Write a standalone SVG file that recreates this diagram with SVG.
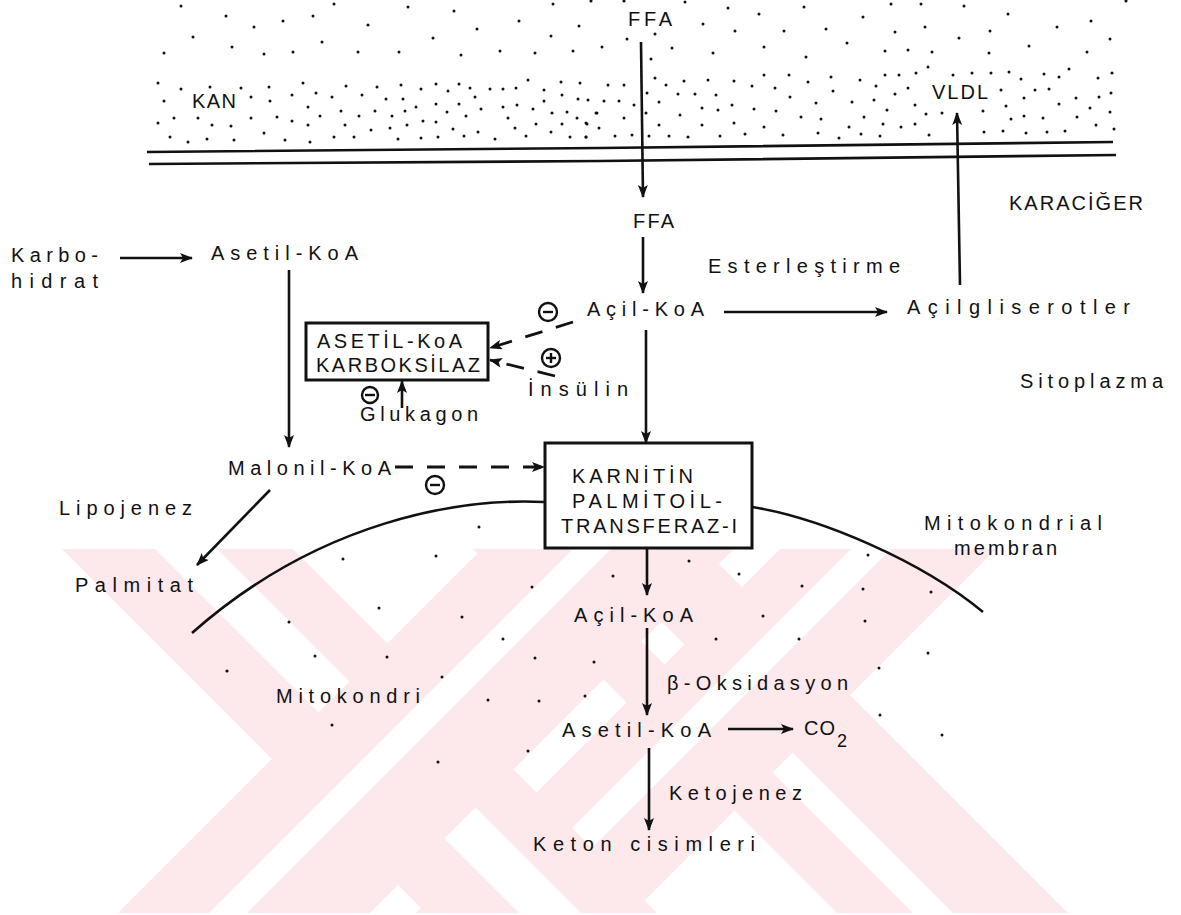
<svg xmlns="http://www.w3.org/2000/svg" width="1181" height="915" viewBox="0 0 1181 915">
<style>
text{font-family:"Liberation Sans Narrow","Liberation Sans",Arial,sans-serif;font-size:20px;fill:#111;}
.ln{stroke:#111;stroke-width:2.6;fill:none;}
.dash{stroke:#111;stroke-width:2.8;fill:none;stroke-dasharray:18 14;}
.box{stroke:#111;stroke-width:3;fill:none;}
.wm{fill:#fde8ec;}
.wg{fill:#fff;}
.d{fill:#111;}
.sign{stroke:#111;stroke-width:2.4;fill:none;}
</style>
<defs>
<marker id="ah" markerUnits="userSpaceOnUse" markerWidth="14" markerHeight="12" refX="12" refY="5" orient="auto"><path d="M0,0 L13,5 L0,10 L3,5 Z" fill="#111"/></marker>
</defs>
<rect width="1181" height="915" fill="#fff"/>
<g id="watermark">
<polygon class="wm" points="473,549 704,549 1068,913 837,913"/>
<polygon class="wg" points="549,549 589,549 953,913 913,913"/>
<polygon class="wm" points="780,549 996,549 632,913 416,913"/>
<polygon class="wg" points="851,549 891,549 527,913 487,913"/>
<polygon class="wm" points="62,549 293,549 657,913 426,913"/>
<polygon class="wg" points="155,549 217,549 581,913 519,913"/>
<polygon class="wm" points="482,549 734,549 370,913 118,913"/>
<polygon class="wg" points="573,549 611,549 247,913 209,913"/>
</g>
<g id="blood-dots" class="d">
<circle cx="181" cy="6" r="1.5"/><circle cx="226" cy="16" r="1.5"/><circle cx="254" cy="27" r="1.5"/><circle cx="283" cy="21" r="1.5"/><circle cx="313" cy="16" r="1.5"/><circle cx="334" cy="4" r="1.5"/><circle cx="368" cy="25" r="1.5"/><circle cx="408" cy="7" r="1.5"/><circle cx="454" cy="11" r="1.5"/><circle cx="477" cy="29" r="1.5"/><circle cx="519" cy="21" r="1.5"/><circle cx="553" cy="4" r="1.5"/><circle cx="579" cy="26" r="1.5"/>
<circle cx="193" cy="37" r="1.5"/><circle cx="232" cy="47" r="1.5"/><circle cx="322" cy="42" r="1.5"/><circle cx="433" cy="38" r="1.5"/><circle cx="551" cy="36" r="1.5"/><circle cx="164" cy="53" r="1.5"/><circle cx="264" cy="54" r="1.5"/><circle cx="293" cy="52" r="1.5"/><circle cx="358" cy="52" r="1.5"/><circle cx="399" cy="52" r="1.5"/><circle cx="461" cy="55" r="1.5"/><circle cx="500" cy="51" r="1.5"/><circle cx="535" cy="53" r="1.5"/><circle cx="573" cy="51" r="1.5"/>
<circle cx="158" cy="83" r="1.5"/><circle cx="181" cy="89" r="1.5"/><circle cx="210" cy="87" r="1.5"/><circle cx="241" cy="88" r="1.5"/><circle cx="269" cy="87" r="1.5"/><circle cx="303" cy="83" r="1.5"/><circle cx="346" cy="86" r="1.5"/><circle cx="377" cy="87" r="1.5"/><circle cx="401" cy="85" r="1.5"/><circle cx="421" cy="89" r="1.5"/><circle cx="436" cy="84" r="1.5"/><circle cx="448" cy="91" r="1.5"/><circle cx="459" cy="84" r="1.5"/><circle cx="470" cy="88" r="1.5"/><circle cx="490" cy="89" r="1.5"/><circle cx="503" cy="89" r="1.5"/><circle cx="516" cy="88" r="1.5"/><circle cx="528" cy="80" r="1.5"/><circle cx="544" cy="90" r="1.5"/><circle cx="561" cy="82" r="1.5"/><circle cx="580" cy="83" r="1.5"/>
<circle cx="164" cy="101" r="1.5"/><circle cx="251" cy="97" r="1.5"/><circle cx="270" cy="101" r="1.5"/><circle cx="292" cy="95" r="1.5"/><circle cx="316" cy="93" r="1.5"/><circle cx="332" cy="97" r="1.5"/><circle cx="362" cy="95" r="1.5"/><circle cx="386" cy="99" r="1.5"/><circle cx="403" cy="99" r="1.5"/><circle cx="436" cy="104" r="1.5"/><circle cx="459" cy="104" r="1.5"/><circle cx="475" cy="97" r="1.5"/><circle cx="503" cy="107" r="1.5"/><circle cx="517" cy="105" r="1.5"/><circle cx="533" cy="109" r="1.5"/><circle cx="544" cy="101" r="1.5"/><circle cx="562" cy="95" r="1.5"/><circle cx="578" cy="99" r="1.5"/>
<circle cx="308" cy="107" r="1.5"/><circle cx="341" cy="111" r="1.5"/><circle cx="359" cy="116" r="1.5"/><circle cx="375" cy="111" r="1.5"/><circle cx="392" cy="116" r="1.5"/><circle cx="405" cy="111" r="1.5"/><circle cx="416" cy="107" r="1.5"/><circle cx="447" cy="112" r="1.5"/><circle cx="466" cy="116" r="1.5"/><circle cx="481" cy="109" r="1.5"/><circle cx="552" cy="113" r="1.5"/><circle cx="567" cy="112" r="1.5"/><circle cx="597" cy="113" r="1.5"/>
<circle cx="158" cy="123" r="1.5"/><circle cx="174" cy="118" r="1.5"/><circle cx="198" cy="118" r="1.5"/><circle cx="212" cy="125" r="1.5"/><circle cx="231" cy="126" r="1.5"/><circle cx="251" cy="118" r="1.5"/><circle cx="277" cy="117" r="1.5"/><circle cx="292" cy="121" r="1.5"/><circle cx="308" cy="125" r="1.5"/><circle cx="320" cy="116" r="1.5"/><circle cx="345" cy="125" r="1.5"/><circle cx="371" cy="130" r="1.5"/><circle cx="390" cy="128" r="1.5"/><circle cx="407" cy="125" r="1.5"/><circle cx="423" cy="121" r="1.5"/><circle cx="436" cy="122" r="1.5"/><circle cx="453" cy="129" r="1.5"/><circle cx="478" cy="132" r="1.5"/><circle cx="508" cy="118" r="1.5"/><circle cx="515" cy="128" r="1.5"/><circle cx="536" cy="124" r="1.5"/><circle cx="562" cy="124" r="1.5"/><circle cx="577" cy="118" r="1.5"/><circle cx="586" cy="123" r="1.5"/>
<circle cx="170" cy="137" r="1.5"/><circle cx="188" cy="142" r="1.5"/><circle cx="207" cy="139" r="1.5"/><circle cx="234" cy="140" r="1.5"/><circle cx="264" cy="133" r="1.5"/><circle cx="285" cy="140" r="1.5"/><circle cx="310" cy="142" r="1.5"/><circle cx="334" cy="137" r="1.5"/><circle cx="354" cy="137" r="1.5"/><circle cx="398" cy="139" r="1.5"/><circle cx="421" cy="138" r="1.5"/><circle cx="438" cy="137" r="1.5"/><circle cx="464" cy="136" r="1.5"/><circle cx="495" cy="139" r="1.5"/><circle cx="526" cy="136" r="1.5"/><circle cx="551" cy="132" r="1.5"/><circle cx="570" cy="137" r="1.5"/><circle cx="586" cy="137" r="1.5"/>
<circle cx="591" cy="1" r="1.5"/><circle cx="624" cy="1" r="1.5"/><circle cx="685" cy="2" r="1.5"/><circle cx="728" cy="8" r="1.5"/><circle cx="759" cy="14" r="1.5"/><circle cx="804" cy="7" r="1.5"/><circle cx="863" cy="17" r="1.5"/><circle cx="891" cy="4" r="1.5"/><circle cx="921" cy="4" r="1.5"/><circle cx="964" cy="6" r="1.5"/><circle cx="1008" cy="14" r="1.5"/><circle cx="1091" cy="21" r="1.5"/><circle cx="1126" cy="1" r="1.5"/>
<circle cx="703" cy="24" r="1.5"/><circle cx="735" cy="31" r="1.5"/><circle cx="784" cy="31" r="1.5"/><circle cx="826" cy="29" r="1.5"/><circle cx="895" cy="32" r="1.5"/><circle cx="925" cy="27" r="1.5"/><circle cx="959" cy="38" r="1.5"/><circle cx="990" cy="31" r="1.5"/><circle cx="1057" cy="27" r="1.5"/><circle cx="1110" cy="39" r="1.5"/>
<circle cx="602" cy="47" r="1.5"/><circle cx="627" cy="39" r="1.5"/><circle cx="655" cy="34" r="1.5"/><circle cx="672" cy="48" r="1.5"/><circle cx="713" cy="53" r="1.5"/><circle cx="764" cy="47" r="1.5"/><circle cx="806" cy="57" r="1.5"/><circle cx="847" cy="43" r="1.5"/><circle cx="885" cy="51" r="1.5"/><circle cx="908" cy="50" r="1.5"/><circle cx="932" cy="52" r="1.5"/><circle cx="989" cy="53" r="1.5"/><circle cx="1029" cy="46" r="1.5"/><circle cx="1087" cy="52" r="1.5"/><circle cx="651" cy="59" r="1.5"/><circle cx="928" cy="67" r="1.5"/>
<circle cx="608" cy="85" r="1.5"/><circle cx="624" cy="85" r="1.5"/><circle cx="655" cy="78" r="1.5"/><circle cx="666" cy="85" r="1.5"/><circle cx="684" cy="81" r="1.5"/><circle cx="708" cy="80" r="1.5"/><circle cx="734" cy="81" r="1.5"/><circle cx="764" cy="75" r="1.5"/><circle cx="789" cy="75" r="1.5"/><circle cx="808" cy="82" r="1.5"/><circle cx="831" cy="77" r="1.5"/><circle cx="860" cy="80" r="1.5"/><circle cx="876" cy="86" r="1.5"/><circle cx="885" cy="75" r="1.5"/><circle cx="899" cy="75" r="1.5"/><circle cx="916" cy="73" r="1.5"/><circle cx="953" cy="75" r="1.5"/><circle cx="972" cy="73" r="1.5"/><circle cx="991" cy="73" r="1.5"/><circle cx="1009" cy="72" r="1.5"/><circle cx="1021" cy="79" r="1.5"/><circle cx="1044" cy="74" r="1.5"/><circle cx="1059" cy="77" r="1.5"/><circle cx="1069" cy="69" r="1.5"/><circle cx="1098" cy="78" r="1.5"/><circle cx="1112" cy="73" r="1.5"/>
<circle cx="588" cy="100" r="1.5"/><circle cx="604" cy="101" r="1.5"/><circle cx="619" cy="101" r="1.5"/><circle cx="634" cy="105" r="1.5"/><circle cx="647" cy="93" r="1.5"/><circle cx="659" cy="102" r="1.5"/><circle cx="678" cy="94" r="1.5"/><circle cx="695" cy="94" r="1.5"/><circle cx="716" cy="95" r="1.5"/><circle cx="752" cy="86" r="1.5"/><circle cx="775" cy="88" r="1.5"/><circle cx="790" cy="97" r="1.5"/><circle cx="816" cy="103" r="1.5"/><circle cx="833" cy="91" r="1.5"/><circle cx="852" cy="102" r="1.5"/><circle cx="874" cy="100" r="1.5"/><circle cx="895" cy="94" r="1.5"/><circle cx="908" cy="88" r="1.5"/><circle cx="915" cy="105" r="1.5"/><circle cx="1001" cy="90" r="1.5"/><circle cx="1024" cy="98" r="1.5"/><circle cx="1035" cy="90" r="1.5"/><circle cx="1049" cy="89" r="1.5"/><circle cx="1076" cy="98" r="1.5"/><circle cx="1099" cy="97" r="1.5"/><circle cx="1111" cy="93" r="1.5"/><circle cx="1059" cy="104" r="1.5"/><circle cx="1006" cy="106" r="1.5"/><circle cx="983" cy="111" r="1.5"/>
<circle cx="596" cy="113" r="1.5"/><circle cx="624" cy="118" r="1.5"/><circle cx="646" cy="113" r="1.5"/><circle cx="680" cy="115" r="1.5"/><circle cx="702" cy="108" r="1.5"/><circle cx="718" cy="110" r="1.5"/><circle cx="732" cy="105" r="1.5"/><circle cx="754" cy="109" r="1.5"/><circle cx="776" cy="111" r="1.5"/><circle cx="801" cy="117" r="1.5"/><circle cx="821" cy="119" r="1.5"/><circle cx="864" cy="117" r="1.5"/><circle cx="887" cy="110" r="1.5"/><circle cx="926" cy="114" r="1.5"/><circle cx="942" cy="113" r="1.5"/><circle cx="1011" cy="119" r="1.5"/><circle cx="1024" cy="116" r="1.5"/><circle cx="1043" cy="118" r="1.5"/><circle cx="1077" cy="117" r="1.5"/><circle cx="1090" cy="108" r="1.5"/><circle cx="1110" cy="112" r="1.5"/>
<circle cx="587" cy="124" r="1.5"/><circle cx="599" cy="128" r="1.5"/><circle cx="659" cy="125" r="1.5"/><circle cx="702" cy="125" r="1.5"/><circle cx="734" cy="123" r="1.5"/><circle cx="764" cy="127" r="1.5"/><circle cx="849" cy="127" r="1.5"/><circle cx="883" cy="124" r="1.5"/><circle cx="901" cy="127" r="1.5"/><circle cx="915" cy="124" r="1.5"/><circle cx="1096" cy="125" r="1.5"/>
<circle cx="586" cy="137" r="1.5"/><circle cx="615" cy="136" r="1.5"/><circle cx="632" cy="135" r="1.5"/><circle cx="649" cy="136" r="1.5"/><circle cx="669" cy="136" r="1.5"/><circle cx="688" cy="137" r="1.5"/><circle cx="720" cy="136" r="1.5"/><circle cx="745" cy="134" r="1.5"/><circle cx="783" cy="135" r="1.5"/><circle cx="818" cy="133" r="1.5"/><circle cx="839" cy="138" r="1.5"/><circle cx="861" cy="134" r="1.5"/><circle cx="880" cy="136" r="1.5"/><circle cx="929" cy="135" r="1.5"/><circle cx="984" cy="132" r="1.5"/><circle cx="1003" cy="131" r="1.5"/><circle cx="1026" cy="133" r="1.5"/><circle cx="1047" cy="132" r="1.5"/><circle cx="1065" cy="131" r="1.5"/><circle cx="1114" cy="129" r="1.5"/>
</g>
<g id="mito-dots" class="d">
<circle cx="479" cy="527" r="1.5"/><circle cx="343" cy="559" r="1.5"/><circle cx="436" cy="556" r="1.5"/><circle cx="379" cy="608" r="1.5"/><circle cx="289" cy="622" r="1.5"/><circle cx="315" cy="656" r="1.5"/><circle cx="387" cy="657" r="1.5"/><circle cx="227" cy="671" r="1.6"/><circle cx="332" cy="725" r="1.5"/>
<circle cx="532" cy="587" r="1.5"/><circle cx="462" cy="617" r="1.5"/><circle cx="503" cy="639" r="1.5"/><circle cx="535" cy="658" r="1.5"/><circle cx="594" cy="662" r="1.5"/><circle cx="442" cy="677" r="1.5"/><circle cx="488" cy="700" r="1.5"/><circle cx="539" cy="701" r="1.5"/><circle cx="585" cy="696" r="1.5"/><circle cx="438" cy="762" r="1.5"/><circle cx="528" cy="751" r="1.5"/><circle cx="613" cy="576" r="1.5"/><circle cx="689" cy="561" r="1.5"/><circle cx="739" cy="574" r="1.5"/><circle cx="763" cy="616" r="1.5"/><circle cx="716" cy="639" r="1.5"/>
<circle cx="868" cy="555" r="1.5"/><circle cx="802" cy="586" r="1.5"/><circle cx="863" cy="589" r="1.5"/><circle cx="931" cy="592" r="1.5"/><circle cx="865" cy="621" r="1.5"/><circle cx="799" cy="639" r="1.5"/><circle cx="928" cy="653" r="1.5"/><circle cx="879" cy="668" r="1.5"/><circle cx="880" cy="715" r="1.5"/><circle cx="942" cy="735" r="1.5"/>
</g>
<g id="membranes">
<path class="ln" d="M147,152 L600,148 L1113,142" stroke-width="3"/>
<path class="ln" d="M149,164 L600,161 L1116,155" stroke-width="3"/>
<path class="ln" d="M544,502 C460,498 320,520 192,633"/>
<path class="ln" d="M752,507 C820,518 920,560 983,612"/>
</g>
<g id="connectors">
<line class="ln" x1="641" y1="42" x2="643" y2="197" marker-end="url(#ah)"/>
<line class="ln" x1="960" y1="285" x2="957" y2="113" marker-end="url(#ah)"/>
<line class="ln" x1="643" y1="237" x2="643" y2="293" marker-end="url(#ah)"/>
<line class="ln" x1="724" y1="312" x2="887" y2="312" marker-end="url(#ah)"/>
<line class="ln" x1="646" y1="330" x2="646" y2="443" marker-end="url(#ah)"/>
<line class="ln" x1="120" y1="258" x2="192" y2="258" marker-end="url(#ah)"/>
<line class="ln" x1="289" y1="270" x2="289" y2="447" marker-end="url(#ah)"/>
<line class="dash" x1="395" y1="467" x2="544" y2="467" marker-end="url(#ah)"/>
<line class="ln" x1="270" y1="490" x2="197" y2="565" marker-end="url(#ah)"/>
<line class="dash" x1="573" y1="322" x2="490" y2="348" marker-end="url(#ah)"/>
<line class="dash" x1="555" y1="376" x2="490" y2="360" marker-end="url(#ah)"/>
<line class="ln" x1="402" y1="408" x2="402" y2="381" marker-end="url(#ah)"/>
<line class="ln" x1="647" y1="548" x2="647" y2="595" marker-end="url(#ah)"/>
<line class="ln" x1="647" y1="628" x2="647" y2="715" marker-end="url(#ah)"/>
<line class="ln" x1="728" y1="729" x2="793" y2="729" marker-end="url(#ah)"/>
<line class="ln" x1="649" y1="748" x2="649" y2="830" marker-end="url(#ah)"/>
</g>
<g id="signs">
<g id="minus-acil"><circle class="sign" cx="548" cy="312" r="9"/><line class="sign" x1="543" y1="312" x2="553" y2="312"/></g>
<g id="plus-insulin"><circle class="sign" cx="551" cy="358" r="9"/><line class="sign" x1="546" y1="358" x2="556" y2="358"/><line class="sign" x1="551" y1="353" x2="551" y2="363"/></g>
<g id="minus-glukagon"><circle class="sign" cx="370" cy="395" r="8"/><line class="sign" x1="365" y1="395" x2="375" y2="395"/></g>
<g id="minus-malonil"><circle class="sign" cx="435" cy="485" r="9"/><line class="sign" x1="430" y1="485" x2="440" y2="485"/></g>
</g>
<g id="n-ffa-blood"><text x="628" y="26" textLength="44" lengthAdjust="spacing">FFA</text></g>
<g id="n-kan"><text x="192" y="108" textLength="44" lengthAdjust="spacing">KAN</text></g>
<g id="n-vldl"><text x="932" y="99" textLength="56" lengthAdjust="spacing">VLDL</text></g>
<g id="n-karaciger"><text x="1009" y="210" textLength="134" lengthAdjust="spacing">KARACİĞER</text></g>
<g id="n-ffa"><text x="633" y="228" textLength="41" lengthAdjust="spacing">FFA</text></g>
<g id="n-karbohidrat"><text x="11" y="262" textLength="87" lengthAdjust="spacing">Karbo-</text><text x="11" y="288" textLength="87" lengthAdjust="spacing">hidrat</text></g>
<g id="n-asetil-koa"><text x="211" y="260" textLength="147" lengthAdjust="spacing">Asetil-KoA</text></g>
<g id="n-esterlestirme"><text x="708" y="273" textLength="192" lengthAdjust="spacing">Esterleştirme</text></g>
<g id="n-acil-koa"><text x="587" y="316" textLength="117" lengthAdjust="spacing">Açil-KoA</text></g>
<g id="n-acilgliserotler"><text x="907" y="314" textLength="223" lengthAdjust="spacing">Açilgliserotler</text></g>
<g id="n-sitoplazma"><text x="1020" y="388" textLength="143" lengthAdjust="spacing">Sitoplazma</text></g>
<g id="n-acc"><rect class="box" x="306" y="323" width="182" height="57"/><text x="317" y="348" textLength="145" lengthAdjust="spacing">ASETİL-KoA</text><text x="316" y="372" textLength="164" lengthAdjust="spacing">KARBOKSİLAZ</text></g>
<g id="n-insulin"><text x="528" y="396" textLength="100" lengthAdjust="spacing">İnsülin</text></g>
<g id="n-glukagon"><text x="360" y="421" textLength="118" lengthAdjust="spacing">Glukagon</text></g>
<g id="n-malonil"><text x="228" y="475" textLength="163" lengthAdjust="spacing">Malonil-KoA</text></g>
<g id="n-cpt1"><rect class="box" x="545" y="443" width="207" height="105"/><text x="572" y="483" textLength="121" lengthAdjust="spacing">KARNİTİN</text><text x="572" y="508" textLength="150" lengthAdjust="spacing">PALMİTOİL-</text><text x="561" y="533" textLength="176" lengthAdjust="spacing">TRANSFERAZ-I</text></g>
<g id="n-lipojenez"><text x="59" y="515" textLength="133" lengthAdjust="spacing">Lipojenez</text></g>
<g id="n-mito-membran"><text x="924" y="530" textLength="178" lengthAdjust="spacing">Mitokondrial</text><text x="954" y="555" textLength="103" lengthAdjust="spacing">membran</text></g>
<g id="n-palmitat"><text x="75" y="592" textLength="118" lengthAdjust="spacing">Palmitat</text></g>
<g id="n-acil-koa-mito"><text x="574" y="622" textLength="119" lengthAdjust="spacing">Açil-KoA</text></g>
<g id="n-mitokondri"><text x="276" y="703" textLength="144" lengthAdjust="spacing">Mitokondri</text></g>
<g id="n-boksidasyon"><text x="667" y="690" textLength="181" lengthAdjust="spacing">β-Oksidasyon</text></g>
<g id="n-asetil-koa-mito"><text x="562" y="737" textLength="149" lengthAdjust="spacing">Asetil-KoA</text></g>
<g id="n-co2"><text x="804" y="735" textLength="31" lengthAdjust="spacing">CO</text><text x="837" y="747" style="font-size:18px">2</text></g>
<g id="n-ketojenez"><text x="669" y="800" textLength="133" lengthAdjust="spacing">Ketojenez</text></g>
<g id="n-keton"><text x="533" y="851" textLength="222" lengthAdjust="spacing">Keton cisimleri</text></g>
</svg>
